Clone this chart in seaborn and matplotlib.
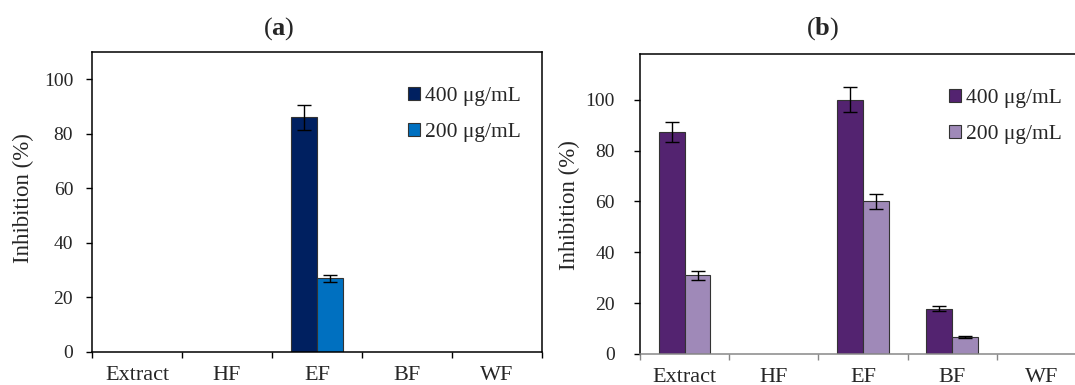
import numpy as np
import pandas as pd
import matplotlib
matplotlib.use("Agg")
import matplotlib.pyplot as plt
from matplotlib.patches import Patch
from matplotlib.container import BarContainer
import seaborn as sns

categories = ["Extract", "HF", "EF", "BF", "WF"]
doses = ["400 μg/mL", "200 μg/mL"]

a_400 = [0, 0, 86, 0, 0]
a_400_err = [0, 0, 4.5, 0, 0]
a_200 = [0, 0, 27, 0, 0]
a_200_err = [0, 0, 1.2, 0, 0]

b_400 = [87.3, 0, 100, 17.8, 0]
b_400_err = [4.0, 0, 5.0, 1.0, 0]
b_200 = [30.9, 0, 60, 6.8, 0]
b_200_err = [1.7, 0, 3.0, 0.4, 0]

yticks = [0, 20, 40, 60, 80, 100]

colors_a = ["#002060", "#0070C0"]
colors_b = ["#532370", "#9F89B8"]

sns.set_style("ticks")
plt.rcParams["font.family"] = ["Liberation Serif", "DejaVu Serif"]
plt.rcParams["mathtext.fontset"] = "custom"
plt.rcParams["mathtext.rm"] = "Liberation Serif"
plt.rcParams["mathtext.bf"] = "Liberation Serif:bold"

FS_X = 16
FS_Y = 14
FS_LEG = 15.5
FS_LAB = 16.5
FS_TITLE = 19
W, H = 1075, 385
fig = plt.figure(figsize=(W / 100, H / 100), dpi=100)


def px_axes(left, right, top, bottom):
    return fig.add_axes([left / W, (H - bottom) / H, (right - left) / W, (bottom - top) / H])


def panel(ax, v400, e400, v200, e200, colors, ymax, bottom_color, ypad, leg_xy):
    df = pd.DataFrame({
        "cat": categories * 2,
        "dose": [doses[0]] * 5 + [doses[1]] * 5,
        "val": list(v400) + list(v200),
    })
    sns.barplot(data=df, x="cat", y="val", hue="dose", order=categories,
                hue_order=doses, palette=colors, width=0.58, errorbar=None,
                edgecolor="#333333", linewidth=0.8, saturation=1, legend=False, ax=ax)
    errs = [e400, e200]
    bar_conts = [c for c in ax.containers if isinstance(c, BarContainer)]
    for hi, cont in enumerate(bar_conts):
        for bar in list(cont.patches):
            if bar is None:
                continue
            xc = bar.get_x() + bar.get_width() / 2
            h = bar.get_height()
            ci = int(round(xc))
            if h == 0:
                bar.set_linewidth(0)
                continue
            ax.errorbar(xc, h, yerr=errs[hi][ci], color="black", lw=1.0,
                        capsize=5, capthick=1.0, fmt="none", zorder=5)
    ax.set_xlim(-0.5, 4.5)
    ax.set_ylim(0, ymax)
    ax.set_yticks(yticks)
    ax.set_yticklabels([str(t) for t in yticks], fontsize=FS_Y)
    ax.set_xticks(np.arange(6) - 0.5)
    ax.set_xticklabels([])
    ax.set_xticks(np.arange(5), minor=True)
    ax.set_xticklabels(categories, minor=True, fontsize=FS_X)
    ax.tick_params(axis="x", which="major", direction="out", length=4.5,
                   width=1.0, color=bottom_color)
    ax.tick_params(axis="x", which="minor", length=0, pad=10)
    ax.tick_params(axis="y", direction="out", length=4.5, width=1.0, pad=ypad,
                   color="black")
    ax.set_xlabel("")
    ax.set_ylabel("")
    for s in ["left", "top", "right"]:
        ax.spines[s].set_visible(True)
        ax.spines[s].set_color("black")
        ax.spines[s].set_linewidth(1.1)
    ax.spines["bottom"].set_color(bottom_color)
    ax.spines["bottom"].set_linewidth(1.1)
    handles = [Patch(facecolor=c, edgecolor="#333333", linewidth=0.8) for c in colors]
    ax.legend(handles, doses, loc="upper left", bbox_to_anchor=(leg_xy[0] / W, 1 - leg_xy[1] / H),
              bbox_transform=fig.transFigure, frameon=False, fontsize=FS_LEG,
              handlelength=0.55, handleheight=0.55, handletextpad=0.25,
              labelspacing=0.78, borderpad=0, borderaxespad=0)


ax_a = px_axes(92, 542, 52, 352)
panel(ax_a, a_400, a_400_err, a_200, a_200_err, colors_a, 110, "black", 9, (408, 87))

ax_b = px_axes(640, 1086, 54, 354)
panel(ax_b, b_400, b_400_err, b_200, b_200_err, colors_b, 118, "#878787", 13.5, (949, 89))

fig.text(279 / W, 1 - 29 / H, r"($\mathbf{a}$)", ha="center", va="center", fontsize=FS_TITLE)
fig.text(823 / W, 1 - 29 / H, r"($\mathbf{b}$)", ha="center", va="center", fontsize=FS_TITLE)
fig.text(23 / W, 1 - 198 / H, "Inhibition (%)", rotation=90, ha="center", va="center", fontsize=FS_LAB)
fig.text(569 / W, 1 - 205 / H, "Inhibition (%)", rotation=90, ha="center", va="center", fontsize=FS_LAB)

fig.savefig("out.png", dpi=100)
